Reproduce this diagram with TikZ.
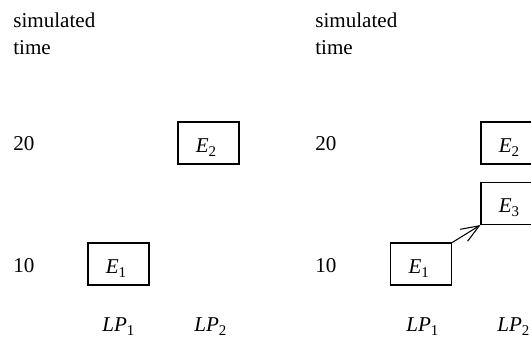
\documentclass[tikz,border=0pt]{standalone}
\usepackage{fontspec}
\setmainfont{Liberation Serif}
\usepackage{tikz}
\usetikzlibrary{arrows.meta, positioning}
\newcommand{\lowsub}[1]{\raisebox{-0.45ex}{\fontsize{8.5}{8.5}\selectfont #1}}
\newcommand{\evt}[1]{\textit{E}\lowsub{#1}}
\newcommand{\proc}[1]{\textit{LP}\lowsub{#1}}
\tikzstyle{axislabel} = [font=\fontsize{12}{14.8}\selectfont, inner sep=0pt, anchor=base west, align=left]
\tikzstyle{eventbox} = [rectangle, draw, line width=0.6pt, minimum width=12.2mm, minimum height=8.4mm,
  inner sep=0pt, text centered, text height=4.4mm, text depth=0.8mm, font=\fontsize{12}{14.8}\selectfont]
\tikzstyle{arrow} = [line width=0.6pt, -{Straight Barb[length=3.6mm, width=2.8mm]}]

\begin{document}
\begin{tikzpicture}[x=0.2mm, y=-0.2mm]
  \clip (0,0) rectangle (531,338);
  \useasboundingbox (0,0) rectangle (531,338);

  % before the straggler message
  \node (timeA) [axislabel] at (13,54)  {simulated\\time};
  \node (hiA)   [axislabel] at (13,150) {20};
  \node (loA)   [axislabel] at (13,272) {10};
  \node (eoneA) [eventbox]  at (118.5,264) {\evt{1}\hspace*{1mm}};
  \node (etwoA) [eventbox]  at (208.5,143) {\evt{2}\hspace*{1mm}};
  \node (lponeA)[axislabel] at (102,331) {\proc{1}};
  \node (lptwoA)[axislabel] at (194,331) {\proc{2}};

  % after E1 schedules E3
  \node (timeB) [axislabel] at (315,54)  {simulated\\time};
  \node (hiB)   [axislabel] at (315,150) {20};
  \node (loB)   [axislabel] at (315,272) {10};
  \node (eoneB) [eventbox]  at (421.2,264) {\evt{1}\hspace*{1mm}};
  \node (etwoB) [eventbox]  at (511.5,143) {\evt{2}\hspace*{1mm}};
  \node (ethrB) [eventbox]  at (511.5,203.5) {\evt{3}\hspace*{1mm}};
  \node (lponeB)[axislabel] at (406,331) {\proc{1}};
  \node (lptwoB)[axislabel] at (497,331) {\proc{2}};

  \draw[arrow] (eoneB.north east) -- (ethrB.south west);
\end{tikzpicture}
\end{document}
